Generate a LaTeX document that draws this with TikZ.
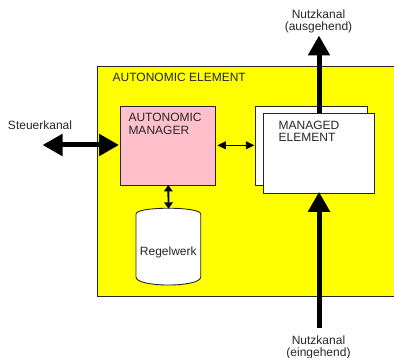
\documentclass[tikz,border=0pt]{standalone}
\usepackage{fontspec}
\setmainfont{Liberation Sans}
\usetikzlibrary{arrows.meta}
\definecolor{aeyellow}{HTML}{FFFF00}
\definecolor{ampink}{HTML}{FFC0CB}
\tikzset{
  box/.style={draw=black!85, line width=0.9pt, inner sep=0pt},
  lbl/.style={inner sep=0pt, text=black!85, font=\fontsize{12}{12.3}\selectfont},
  bigarrow/.style={line width=5pt, -{Triangle[length=20pt,width=21pt]}},
  bigboth/.style={line width=5pt, {Triangle[length=20pt,width=21pt]}-{Triangle[length=20pt,width=21pt]}},
  smallboth/.style={line width=0.9pt, {Triangle[length=8.5pt,width=8pt]}-{Triangle[length=8.5pt,width=8pt]}},
  linkboth/.style={line width=1.8pt, {Triangle[length=6.5pt,width=8.5pt]}-{Triangle[length=6.5pt,width=8.5pt]}},
}
\begin{document}
\begin{tikzpicture}[x=1pt, y=-1pt]
  \useasboundingbox (0,0) rectangle (394,358);
  \clip (0,0) rectangle (394,358);

  % outer autonomic element, running off the right edge
  \node[box, fill=aeyellow, minimum width=310pt, minimum height=230pt, anchor=north west]
    (ae) at (96.5,66) {};
  \node[lbl, anchor=base west] (aetitle) at (112.5,82) {AUTONOMIC ELEMENT};

  % autonomic manager
  \node[box, fill=ampink, minimum width=95pt, minimum height=79.3pt, anchor=north west]
    (am) at (120.3,105.7) {};
  \node[lbl, anchor=base west] (amtext) at (128.3,122) {AUTONOMIC};
  \node[lbl, anchor=base west] (amtext2) at (128.3,134.3) {MANAGER};

  % managed element: back sheet and front sheet
  \node[box, fill=white, minimum width=111.4pt, minimum height=79.3pt, anchor=north west]
    (meback) at (255.3,105.7) {};
  \node[box, fill=white, minimum width=111pt, minimum height=79.4pt, anchor=north west]
    (me) at (263.3,113.3) {};
  \node[lbl, anchor=base west] (metext) at (278.5,129.5) {MANAGED};
  \node[lbl, anchor=base west] (metext2) at (278.5,141.8) {ELEMENT};

  % rule store (cylinder)
  \node[inner sep=0pt, minimum width=64.7pt, minimum height=76.7pt, anchor=north west]
    (rules) at (136,208.3) {};
  \draw[draw=black!85, line width=0.9pt, fill=white]
    (136,214) .. controls (136,206.3) and (200.7,206.3) .. (200.7,214)
    -- (200.7,277) .. controls (200.7,287.7) and (136,287.7) .. (136,277) -- cycle;
  \node[lbl, anchor=base] (rulestext) at (168.3,256) {Regelwerk};

  % control channel
  \coordinate (ctlend) at (42.5,145);
  \node[lbl, anchor=base west] (ctltext) at (7.8,130) {Steuerkanal};
  \draw[bigboth] (ctlend) -- ([xshift=-1.2pt]am.west |- ctlend);

  % manager <-> managed element
  \draw[smallboth] ([xshift=1.2pt]am.east |- 0,145.3) -- ([xshift=-1pt]meback.west |- 0,145.3);

  % manager <-> rule store
  \draw[linkboth] ([yshift=1pt]am.south) -- ([yshift=-0.5pt]rules.north);

  % payload channels
  \coordinate (outtip) at (319,35.5);
  \coordinate (instart) at (319,328);
  \draw[bigarrow] (me.north -| outtip) -- (outtip);
  \draw[bigarrow] (instart) -- ([yshift=1.8pt]me.south -| instart);
  \node[lbl, anchor=base] (outtext) at (318.5,18.3) {Nutzkanal};
  \node[lbl, anchor=base] (outtext2) at (318.5,30.6) {(ausgehend)};
  \node[lbl, anchor=base] (intext) at (318.5,344.2) {Nutzkanal};
  \node[lbl, anchor=base] (intext2) at (318.5,356.5) {(eingehend)};
\end{tikzpicture}
\end{document}
